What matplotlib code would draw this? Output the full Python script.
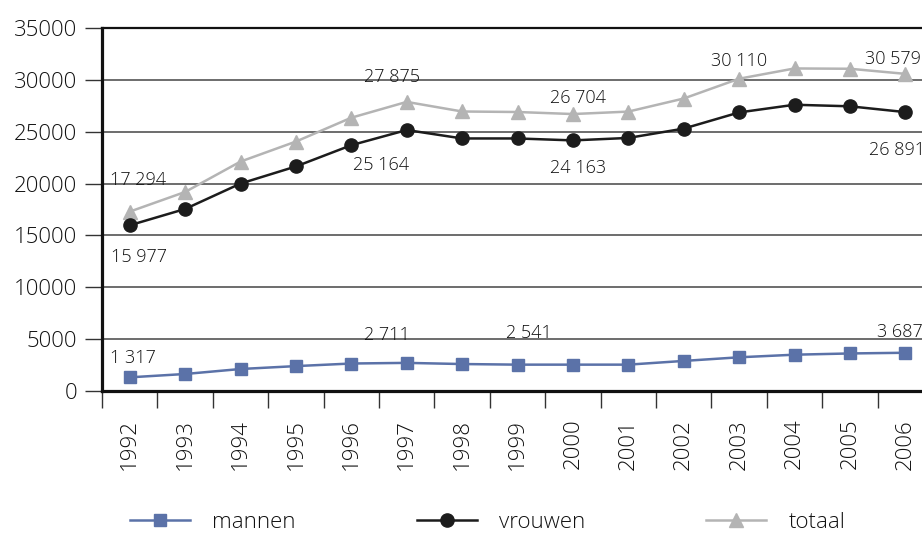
import matplotlib
matplotlib.use("Agg")
import matplotlib.pyplot as plt
from matplotlib.ticker import FixedLocator, NullFormatter

plt.rcParams['font.family'] = ['Open Sans', 'DejaVu Sans']
plt.rcParams['font.weight'] = 'light'

years = ['1992', '1993', '1994', '1995', '1996', '1997', '1998', '1999',
         '2000', '2001', '2002', '2003', '2004', '2005', '2006']
mannen = [1317, 1640, 2120, 2400, 2650, 2711, 2600, 2541, 2541, 2541, 2900, 3250, 3500, 3620, 3687]
vrouwen = [15977, 17550, 20000, 21650, 23700, 25164, 24350, 24350, 24163, 24400, 25300, 26860, 27600, 27450, 26891]
totaal = [17294, 19190, 22120, 24050, 26350, 27875, 26950, 26900, 26704, 26940, 28200, 30110, 31100, 31070, 30579]
yticks = [0, 5000, 10000, 15000, 20000, 25000, 30000, 35000]

# label: (series, index, text, dx px, dy px)
labels = [
    (totaal, 0, '17 294', 8, 32), (vrouwen, 0, '15 977', 9, -32), (mannen, 0, '1 317', 3, 19),
    (totaal, 5, '27 875', -15, 25), (vrouwen, 5, '25 164', -26, -35), (mannen, 5, '2 711', -20, 28),
    (totaal, 8, '26 704', 5, 16), (vrouwen, 8, '24 163', 5, -28), (mannen, 7, '2 541', 11, 32),
    (totaal, 11, '30 110', 0, 18),
    (totaal, 14, '30 579', -12, 15), (vrouwen, 14, '26 891', -8, -38), (mannen, 14, '3 687', -5, 21),
]

fig = plt.figure(figsize=(9.22, 5.34), dpi=100)
ax = fig.add_axes([102/922, 1-391/534, 831/922, (391-28)/534])

x = list(range(len(years)))
ax.plot(x, mannen, color='#5b72a8', lw=1.8, marker='s', ms=9, label='mannen', zorder=3, clip_on=False)
ax.plot(x, vrouwen, color='#1c1c1c', lw=1.8, marker='o', ms=9.5, label='vrouwen', zorder=4, clip_on=False)
ax.plot(x, totaal, color='#b4b4b4', lw=1.8, marker='^', ms=10, label='totaal', zorder=2, clip_on=False)

ax.set_xlim(-0.5, 14.5)
ax.set_ylim(0, 35000)
ax.set_yticks(yticks)
ax.set_yticklabels([str(v) for v in yticks])
ax.yaxis.grid(True, color='#454545', lw=1.1)
ax.set_axisbelow(True)

ax.set_xticks(x)
ax.set_xticklabels(years, rotation=90)
ax.xaxis.set_minor_locator(FixedLocator([i - 0.5 for i in range(len(years) + 1)]))
ax.xaxis.set_minor_formatter(NullFormatter())
ax.tick_params(axis='x', which='major', length=0, pad=20, labelsize=16, colors='#111111')
ax.tick_params(axis='x', which='minor', length=12, width=1, color='#333333')
ax.tick_params(axis='y', length=12, width=1, color='#333333', pad=6, labelsize=16, labelcolor='#111111')

for s in ['left', 'bottom']:
    ax.spines[s].set_linewidth(2.3)
    ax.spines[s].set_color('#111111')
ax.spines['top'].set_linewidth(1.6)
ax.spines['top'].set_color('#111111')
ax.spines['right'].set_visible(False)

for series, i, txt, dx, dy in labels:
    ax.annotate(txt, (x[i], series[i]), xytext=(dx, dy), textcoords='offset pixels',
                ha='center', va='center', fontsize=13, color='#111111', zorder=6,
                annotation_clip=False)

h, l = ax.get_legend_handles_labels()
fig.legend(h, l, ncol=3, loc='center left', bbox_to_anchor=(130/922, 1-522/534),
           frameon=False, fontsize=16, handlelength=2.7, handletextpad=1.0,
           columnspacing=5.45, borderpad=0, borderaxespad=0, labelcolor='#111111')

fig.savefig('out.png', dpi=100)
